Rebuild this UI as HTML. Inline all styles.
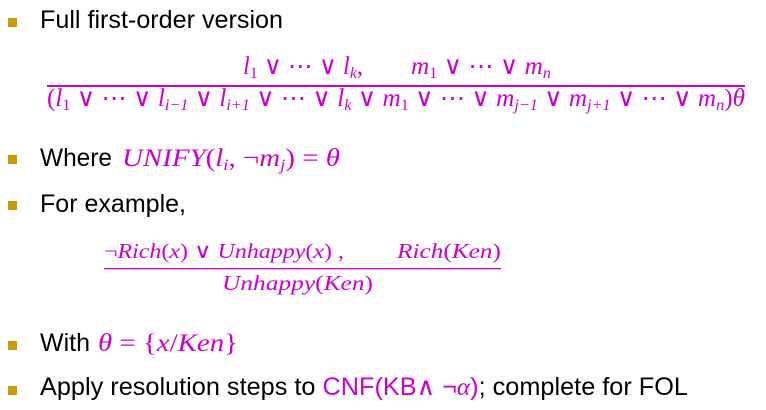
<!DOCTYPE html>
<html><head><meta charset="utf-8"><style>
html,body{margin:0;padding:0;background:#fff;width:766px;height:410px;overflow:hidden}
svg{display:block}
.t{font-family:"Liberation Sans",Arial,sans-serif;font-size:25px;fill:#000}
.m{font-family:"Liberation Serif","DejaVu Serif",serif;font-style:italic;fill:#cc00cc}
</style></head><body>
<svg width="766" height="410" viewBox="0 0 766 410" xmlns="http://www.w3.org/2000/svg">
<g fill="#cc9900">
<rect x="8" y="18" width="9" height="9"/>
<rect x="8" y="155" width="9" height="9"/>
<rect x="8" y="201" width="9" height="9"/>
<rect x="8" y="341" width="9" height="9"/>
<rect x="8" y="386" width="9" height="9"/>
</g>
<text class="t" x="40" y="28" textLength="243" lengthAdjust="spacingAndGlyphs">Full first-order version</text>

<text class="m" font-size="25" x="243" y="74" textLength="120" lengthAdjust="spacingAndGlyphs">l<tspan font-size="16" dy="4" font-style="normal">1</tspan><tspan dy="-4" font-style="normal"> ∨ ⋯ ∨ </tspan>l<tspan font-size="16" dy="4">k</tspan><tspan dy="-4" font-style="normal">,</tspan></text>
<text class="m" font-size="25" x="411" y="74" textLength="140" lengthAdjust="spacingAndGlyphs">m<tspan font-size="16" dy="4" font-style="normal">1</tspan><tspan dy="-4" font-style="normal"> ∨ ⋯ ∨ </tspan>m<tspan font-size="16" dy="4">n</tspan></text>
<rect x="47" y="85" width="698" height="2" fill="#cc00cc"/>
<text class="m" font-size="25" x="47" y="106" textLength="698" lengthAdjust="spacingAndGlyphs"><tspan font-style="normal">(</tspan>l<tspan font-size="16" dy="4" font-style="normal">1</tspan><tspan dy="-4" font-style="normal"> ∨ ⋯ ∨ </tspan>l<tspan font-size="16" dy="4">i−1</tspan><tspan dy="-4" font-style="normal"> ∨ </tspan>l<tspan font-size="16" dy="4">i+1</tspan><tspan dy="-4" font-style="normal"> ∨ ⋯ ∨ </tspan>l<tspan font-size="16" dy="4">k</tspan><tspan dy="-4" font-style="normal"> ∨ </tspan>m<tspan font-size="16" dy="4" font-style="normal">1</tspan><tspan dy="-4" font-style="normal"> ∨ ⋯ ∨ </tspan>m<tspan font-size="16" dy="4">j−1</tspan><tspan dy="-4" font-style="normal"> ∨ </tspan>m<tspan font-size="16" dy="4">j+1</tspan><tspan dy="-4" font-style="normal"> ∨ ⋯ ∨ </tspan>m<tspan font-size="16" dy="4">n</tspan><tspan dy="-4" font-style="normal">)</tspan>θ</text>

<text class="t" x="40" y="166" textLength="72" lengthAdjust="spacingAndGlyphs">Where</text>
<text class="m" font-size="25" x="122" y="166" textLength="218" lengthAdjust="spacingAndGlyphs">UNIFY<tspan font-style="normal">(</tspan>l<tspan font-size="16" dy="4">i</tspan><tspan dy="-4" font-style="normal">, ¬</tspan>m<tspan font-size="16" dy="4">j</tspan><tspan dy="-4" font-style="normal">) = </tspan>θ</text>

<text class="t" x="40" y="212" textLength="146" lengthAdjust="spacingAndGlyphs">For example,</text>

<text class="m" font-size="21" x="104" y="258" textLength="240" lengthAdjust="spacingAndGlyphs"><tspan font-style="normal">¬</tspan>Rich<tspan font-style="normal">(</tspan>x<tspan font-style="normal">) ∨ </tspan>Unhappy<tspan font-style="normal">(</tspan>x<tspan font-style="normal">) ,</tspan></text>
<text class="m" font-size="21" x="397" y="258" textLength="104" lengthAdjust="spacingAndGlyphs">Rich<tspan font-style="normal">(</tspan>Ken<tspan font-style="normal">)</tspan></text>
<rect x="104" y="268" width="397" height="1.3" fill="#cc00cc"/>
<text class="m" font-size="21" x="222" y="290" textLength="151" lengthAdjust="spacingAndGlyphs">Unhappy<tspan font-style="normal">(</tspan>Ken<tspan font-style="normal">)</tspan></text>

<text class="t" x="40" y="351" textLength="50" lengthAdjust="spacingAndGlyphs">With</text>
<text class="m" font-size="25" x="98" y="351" textLength="140" lengthAdjust="spacingAndGlyphs">θ<tspan font-style="normal"> = {</tspan>x<tspan font-style="normal">/</tspan>Ken<tspan font-style="normal">}</tspan></text>

<text class="t" x="40" y="395" textLength="648" lengthAdjust="spacingAndGlyphs">Apply resolution steps to <tspan fill="#cc00cc">CNF(KB∧ ¬<tspan font-family="Liberation Serif, serif" font-style="italic">α</tspan>)</tspan>; complete for FOL</text>
</svg>
</body></html>
